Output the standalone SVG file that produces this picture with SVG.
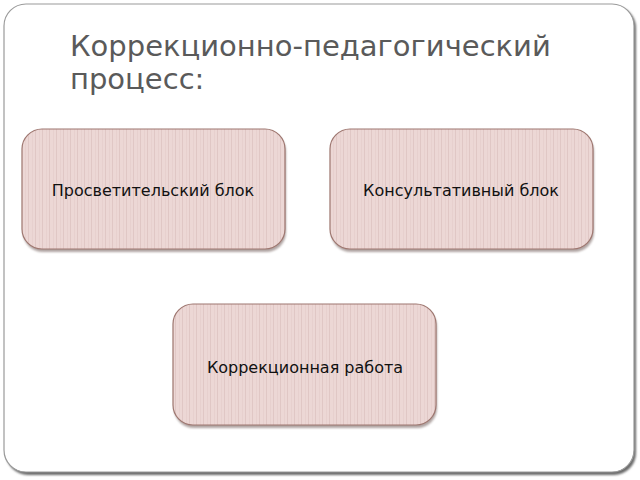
<svg xmlns="http://www.w3.org/2000/svg" width="640" height="480" viewBox="0 0 640 480">
<style>
.title{font-family:"DejaVu Sans",sans-serif;font-size:29px;fill:#5a5a5a}
.lbl{font-family:"DejaVu Sans",sans-serif;font-size:16px;fill:#111;text-anchor:middle}
.box{fill:url(#stripes);stroke:#9e7770;stroke-width:1.2}
.shadow{fill:#6e5a57;opacity:0.55}
</style>
<defs>
<pattern id="stripes" patternUnits="userSpaceOnUse" width="7" height="10">
<rect width="7" height="10" fill="#ecd7d5"/>
<rect x="0" width="1" height="10" fill="#e0c7c5"/>
<rect x="4" width="1" height="10" fill="#e7d0ce"/>
</pattern>
<filter id="blur" x="-5%" y="-5%" width="110%" height="120%"><feGaussianBlur stdDeviation="1.2"/></filter>
</defs>
<g id="frame">
<rect x="6" y="6" width="630" height="469" rx="22" fill="#6a6a6a" filter="url(#blur)"/>
<rect x="4" y="4" width="630" height="468" rx="22" fill="#ffffff" stroke="#9a9a9a" stroke-width="1.2"/>
</g>
<g id="title">
<text class="title" x="70" y="56">Коррекционно-педагогический</text>
<text class="title" x="70" y="89">процесс:</text>
</g>
<g id="connectors"></g>
<g id="node1">
<rect class="shadow" x="23" y="132" width="263" height="120" rx="20" filter="url(#blur)"/>
<rect class="box" x="22" y="129" width="263" height="120" rx="20"/>
<text class="lbl" x="153" y="196">Просветительский блок</text>
</g>
<g id="node2">
<rect class="shadow" x="331" y="132" width="263" height="120" rx="20" filter="url(#blur)"/>
<rect class="box" x="330" y="129" width="263" height="120" rx="20"/>
<text class="lbl" x="461" y="196">Консультативный блок</text>
</g>
<g id="node3">
<rect class="shadow" x="174" y="307" width="263" height="121" rx="20" filter="url(#blur)"/>
<rect class="box" x="173" y="304" width="263" height="121" rx="20"/>
<text class="lbl" x="305" y="373">Коррекционная работа</text>
</g>
</svg>
